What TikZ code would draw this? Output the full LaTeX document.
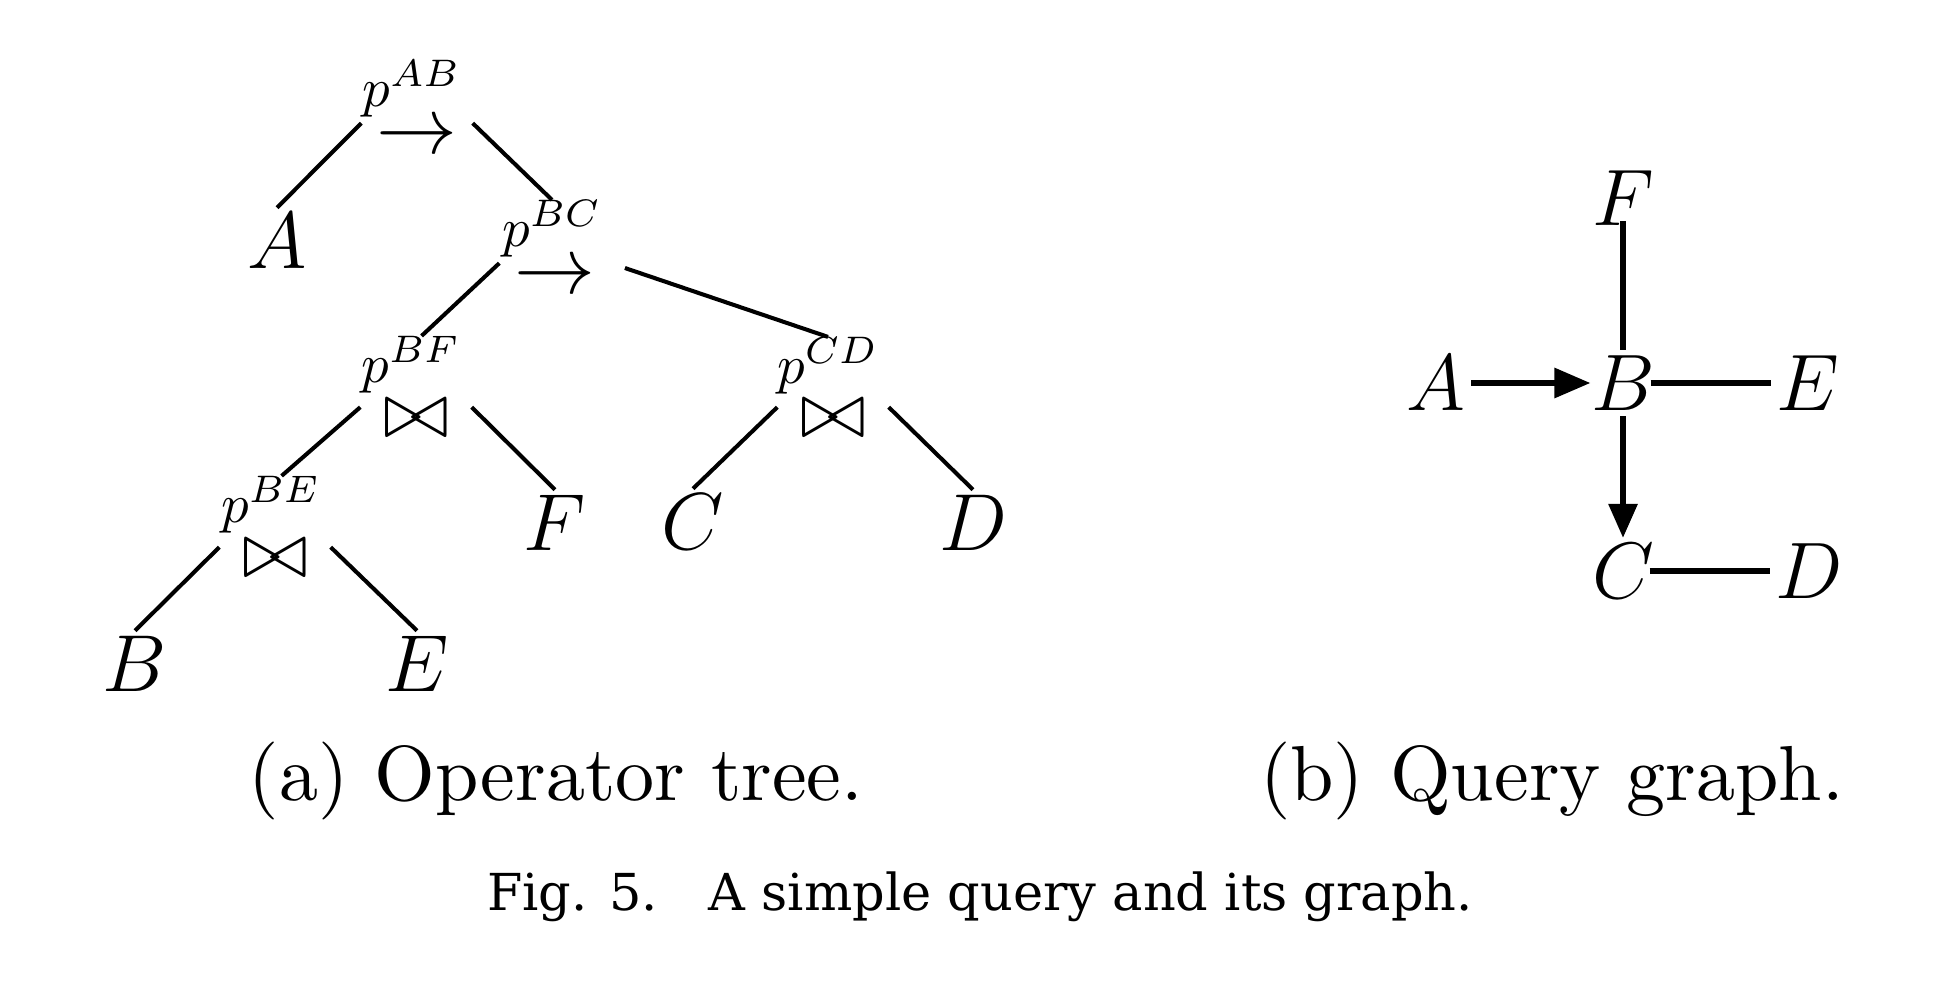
\RequirePackage{fix-cm}
\documentclass[tikz,border=0pt]{standalone}
\usepackage{graphicx}
\usepackage{fontspec}
\newfontfamily\capfont{DejaVu Serif}
\usepackage{tikz}
\usetikzlibrary{arrows.meta, positioning}
\tikzstyle{leaf} = [inner sep=0.05cm, font=\fontsize{23}{28}\selectfont]
\tikzstyle{op} = [minimum width=1.1cm, minimum height=0.5cm, inner sep=0pt, text height=11.5pt, text depth=0pt, font=\fontsize{23}{28}\selectfont]
\tikzstyle{plabel} = [inner sep=0pt, node distance=0.48cm, font=\fontsize{10}{12}\selectfont]
\tikzstyle{vertex} = [inner sep=0.05cm, font=\fontsize{22.8}{28}\selectfont]
\tikzstyle{caption} = [anchor=base, inner sep=0pt, font=\fontsize{10}{12}\selectfont]
\tikzstyle{edge} = [line width=1.15pt]
\tikzstyle{gedge} = [line width=1.7pt]
\newcommand{\plab}[1]{\scalebox{1.56}{$p^{#1}$}}

\begin{document}
\begin{tikzpicture}[node distance=1.4cm]
\useasboundingbox (0,0) rectangle (19.46,-9.90);
% (a) operator tree
\node (opab) [op] at (4.17,-1.33) {$\rightarrow$};
\node (opbc) [op, below of=opab, xshift=1.38cm, yshift=0cm] {$\rightarrow$};
\node (opbf) [op, below of=opbc, xshift=-1.39cm, yshift=-0.04cm] {$\bowtie$};
\node (opcd) [op, below of=opbc, xshift=2.78cm, yshift=-0.04cm] {$\bowtie$};
\node (opbe) [op, below of=opbf, xshift=-1.41cm, yshift=0cm] {$\bowtie$};
\node (labab) [plabel, above of=opab, xshift=-0.05cm, yshift=-0.04cm] {\plab{AB}};
\node (labbc) [plabel, above of=opbc, xshift=-0.03cm, yshift=-0.04cm] {\plab{BC}};
\node (labbf) [plabel, above of=opbf, xshift=-0.05cm, yshift=0.04cm] {\plab{BF}};
\node (labcd) [plabel, above of=opcd, xshift=-0.05cm, yshift=0.03cm] {\plab{CD}};
\node (labbe) [plabel, above of=opbe, xshift=-0.04cm, yshift=0.04cm] {\plab{BE}};
\node (a) [leaf, below of=opab, xshift=-1.40cm, yshift=0.32cm] {$A$};
\node (f) [leaf, below of=opbf, xshift=1.39cm, yshift=0.34cm] {$F$};
\node (c) [leaf, below of=opcd, xshift=-1.40cm, yshift=0.35cm] {$C$};
\node (d) [leaf, below of=opcd, xshift=1.40cm, yshift=0.34cm] {$D$};
\node (b) [leaf, below of=opbe, xshift=-1.40cm, yshift=0.33cm] {$B$};
\node (e) [leaf, below of=opbe, xshift=1.42cm, yshift=0.33cm] {$E$};
\draw [edge] (opab.170) -- (a.north);
\draw [edge] (opab.10) -- (labbc.north);
\draw [edge] (opbc.170) -- (labbf.70);
\draw [edge, shorten <=0.15cm] (opbc.10) -- (labcd.north);
\draw [edge] (opbf.170) -- (labbe.70);
\draw [edge] (opbf.10) -- (f.north);
\draw [edge] (opbe.170) -- (b.north);
\draw [edge] (opbe.10) -- (e.north);
\draw [edge] (opcd.170) -- (c.north);
\draw [edge] (opcd.10) -- (d.north);
% (b) query graph
\node (gb) [vertex] at (16.23,-3.83) {$B$};
\node (ga) [vertex, left of=gb, xshift=-0.47cm, yshift=0cm] {$A$};
\node (ge) [vertex, right of=gb, xshift=0.45cm, yshift=0cm] {$E$};
\node (gf) [vertex, above of=gb, xshift=0cm, yshift=0.45cm] {$F$};
\node (gc) [vertex, below of=gb, xshift=0cm, yshift=-0.48cm] {$C$};
\node (gd) [vertex, right of=gc, xshift=0.46cm, yshift=0cm] {$D$};
\draw [gedge, shorten >=-0.05cm, -{Triangle[length=3.6mm, width=2.9mm]}] (ga) -- (gb);
\draw [gedge, shorten <=-0.1cm] (gb) -- (ge);
\draw [gedge, shorten <=-0.1cm] (gf) -- (gb);
\draw [gedge, -{Triangle[length=3.4mm, width=2.8mm]}] (gb) -- (gc);
\draw [gedge, shorten <=-0.1cm] (gc) -- (gd);
% captions
\node (capa) [caption] at (5.56,-8.00) {\scalebox{2.22}{(a) Operator tree.}};
\node (capb) [caption] at (15.52,-8.00) {\scalebox{2.22}{(b) Query graph.}};
\node (fig) [anchor=base, font=\capfont\fontsize{14.5}{18}\selectfont] at (9.80,-9.10) {Fig. 5.\hspace{1em}A simple query and its graph.};
\end{tikzpicture}
\end{document}
